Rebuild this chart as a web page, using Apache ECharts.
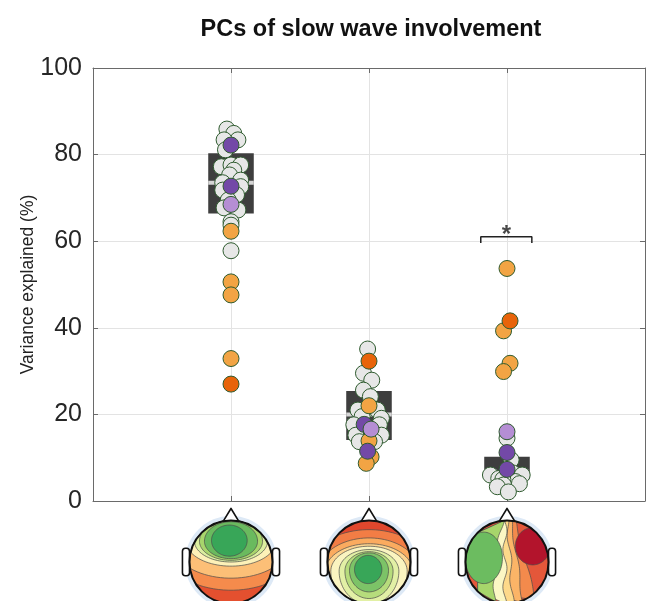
<!DOCTYPE html>
<html><head><meta charset="utf-8">
<script src="https://cdn.jsdelivr.net/npm/echarts@6/dist/echarts.min.js"></script>
<style>html,body{margin:0;padding:0;background:#fff}#c{width:649px;height:601px}</style>
</head><body><div id="c"></div>
<script>
// ---------- data ----------
const titleText = 'PCs of slow wave involvement';
const yName = 'Variance explained (%)';
const positions = [1, 2, 3];
const boxLow = [66.4, 14.1, 5.0];
const boxMedian = [73.5, 20.0, 6.3];
const boxHigh = [80.3, 25.4, 10.2];

const grayValues = [
  [85.9,84.9,83.4,83.4,81.1,77.2,77.6,77.6,76.4,75.3,74.1,73.5,71.8,72.6,70.7,69.5,67.7,67.2,64.5,63.7,57.8],
  [35.1,29.5,27.9,25.6,24.1,21.0,21.0,19.5,19.1,17.6,17.6,15.2,15.2,13.7,13.7],
  [14.5,9.5,6.5,6.0,5.2,6.0,4.5,5.0,4.0,3.7,3.3,2.1]
];
const grayJitter = [
  [-0.03,0.02,0.05,-0.05,-0.04,-0.07,0,0.07,0.02,-0.01,0.07,-0.06,-0.06,0.07,0.04,-0.02,-0.05,0.05,0,0,0],
  [-0.01,-0.04,0.02,-0.04,0.01,-0.08,0.06,-0.05,0.09,-0.11,0.075,-0.095,0.09,-0.07,0.04],
  [0,0.03,0.04,-0.12,-0.06,0.11,0.06,-0.03,0.09,-0.025,-0.07,0.01]
];
const orangeValues = [[62.3,50.6,47.6,32.9],[22.0,13.9,10.2,8.7],[53.7,39.3,31.8,29.9]];
const orangeJitter = [[0,0,0,0],[0,0,0.015,-0.02],[0,-0.025,0.022,-0.025]];
const darkOrangeValues = [[27.0],[32.3],[41.6]];
const darkOrangeJitter = [[0],[0],[0.022]];
const purpleValues = [[82.2,72.7],[17.7,11.5],[11.2,7.3]];
const purpleJitter = [[0,0],[-0.035,-0.01],[0,0]];
const lightPurpleValues = [[68.5],[16.6],[16.0]];
const lightPurpleJitter = [[0],[0.015],[0]];
const sigFrom = 2.81, sigTo = 3.18, sigLevel = 61.0, sigDrop = 59.6, sigText = '*';

// ---------- build ----------
function pts(vals, jit) {
  const out = [];
  vals.forEach((arr, i) => arr.forEach((v, j) => out.push([positions[i] + jit[i][j], v])));
  return out;
}
const FONT = "'Liberation Sans', Arial, Helvetica, sans-serif";
const axisColor = '#6a6a6a';
const gridColor = '#e3e3e3';
function dots(name, data, color) {
  return {
    type: 'scatter', name, data, symbol: 'circle', symbolSize: 16, z: 5,
    itemStyle: { color, borderColor: '#2f5b2f', borderWidth: 1, opacity: 1 },
    emphasis: { disabled: true }
  };
}
const frameAxis = { show: true, onZero: false, lineStyle: { color: axisColor, width: 1 } };
const frameTick = { show: true, inside: true, length: 5, lineStyle: { color: axisColor } };

const chart = echarts.init(document.getElementById('c'), null, { renderer: 'canvas' });
chart.setOption({
  animation: false,
  backgroundColor: '#fff',
  title: {
    text: titleText, left: 366, top: 13, textAlign: 'center',
    textStyle: { fontFamily: FONT, fontSize: 23.5, fontWeight: 'bold', color: '#111' }
  },
  grid: { left: 93, right: 4, top: 68, bottom: 100, containLabel: false },
  xAxis: [
    { type: 'value', min: 0, max: 4, interval: 1, position: 'bottom',
      axisLine: frameAxis, axisTick: frameTick, axisLabel: { show: false },
      splitLine: { show: true, lineStyle: { color: gridColor, width: 1 } } },
    { type: 'value', min: 0, max: 4, interval: 1, position: 'top',
      axisLine: frameAxis, axisTick: frameTick, axisLabel: { show: false }, splitLine: { show: false } }
  ],
  yAxis: [
    { type: 'value', min: 0, max: 100, interval: 20, position: 'left',
      name: yName, nameLocation: 'middle', nameGap: 56, nameRotate: 90, nameMoveOverlap: false,
      nameTextStyle: { fontFamily: FONT, fontSize: 17.5, color: '#222' },
      axisLine: frameAxis, axisTick: frameTick,
      axisLabel: { fontFamily: FONT, fontSize: 25, color: '#262626', margin: 11 },
      splitLine: { show: true, lineStyle: { color: gridColor, width: 1 } } },
    { type: 'value', min: 0, max: 100, interval: 20, position: 'right',
      axisLine: frameAxis, axisTick: frameTick, axisLabel: { show: false }, splitLine: { show: false } }
  ],
  series: [
    { type: 'custom', z: 2,
      data: positions.map((p, i) => [p, boxLow[i], boxMedian[i], boxHigh[i]]),
      encode: { x: 0, y: [1, 2, 3] },
      renderItem: (params, api) => {
        const x = api.value(0), lo = api.value(1), med = api.value(2), hi = api.value(3);
        const hw = 0.165;
        const a = api.coord([x - hw, hi]), b = api.coord([x + hw, lo]), m = api.coord([x, med]);
        return { type: 'group', children: [
          { type: 'rect', shape: { x: a[0], y: a[1], width: b[0] - a[0], height: b[1] - a[1] }, style: { fill: '#3e3e3e' } },
          { type: 'rect', shape: { x: a[0], y: m[1] - 2, width: b[0] - a[0], height: 4 }, style: { fill: '#d5d5d5' } }
        ] };
      } },
    dots('gray', pts(grayValues, grayJitter), '#e7e7e7'),
    dots('orange', pts(orangeValues, orangeJitter), '#f2a444'),
    dots('darkorange', pts(darkOrangeValues, darkOrangeJitter), '#e8640a'),
    dots('purple', pts(purpleValues, purpleJitter), '#7349a7'),
    dots('lightpurple', pts(lightPurpleValues, lightPurpleJitter), '#b58ed4'),
    { type: 'line', data: [[sigFrom, sigDrop], [sigFrom, sigLevel], [sigTo, sigLevel], [sigTo, sigDrop]],
      symbol: 'none', z: 6, lineStyle: { color: '#222', width: 1.5 }, emphasis: { disabled: true } },
    { type: 'scatter', data: [[(sigFrom + sigTo) / 2, sigLevel]], symbolSize: 0, z: 6,
      label: { show: true, formatter: sigText, position: 'top', distance: -11,
        fontFamily: FONT, fontSize: 24, fontWeight: 'bold', color: '#1a1a1a' } }
  ]
});

// ---------- scalp maps (decorative) ----------
function egg(x0, y0, rx, ryT, ryB, n) {
  const p = [];
  for (let i = 0; i < n; i++) {
    const t = i / n * Math.PI * 2;
    const s = Math.sin(t);
    p.push([x0 + rx * Math.cos(t), y0 + (s < 0 ? ryT : ryB) * s]);
  }
  return p;
}
function leftOf(t, s, amp, freq, ph) {
  const p = [];
  for (let i = 0; i <= 60; i++) {
    const y = -1.6 + 3.2 * i / 60;
    p.push([t + s * y + amp * Math.sin(freq * y + ph), y]);
  }
  p.push([-1.6, 1.6]); p.push([-1.6, -1.6]);
  return p;
}
const headSpecs = [
  { base: '#e4502f', regions: [
    { c: '#f58b4c', p: egg(0, -0.5, 1.75, 0.9, 1.18, 90) },
    { c: '#fcbf77', p: egg(0, -0.5, 1.45, 0.8, 0.89, 90) },
    { c: '#fdf1b8', p: egg(0, -0.5, 1.08, 0.7, 0.6, 90) },
    { c: '#dcee9f', p: egg(0, -0.5, 0.88, 0.6, 0.5, 90) },
    { c: '#a8d56c', p: egg(0, -0.5, 0.76, 0.52, 0.46, 90) },
    { c: '#6aba5e', p: egg(0, -0.5, 0.64, 0.47, 0.42, 90) },
    { c: '#38a658', p: egg(-0.04, -0.52, 0.43, 0.37, 0.38, 90) }
  ] },
  { base: '#e0472d', regions: [
    { c: '#f27d45', p: egg(0, 0.22, 1.5, 1.0, 1.4, 90) },
    { c: '#fbab5f', p: egg(0, 0.22, 1.2, 0.8, 1.2, 90) },
    { c: '#fdd590', p: egg(0, 0.22, 1.05, 0.66, 1.05, 90) },
    { c: '#faf4c0', p: egg(0, 0.22, 0.92, 0.6, 0.95, 90) },
    { c: '#e2f0a5', p: egg(0, 0.22, 0.72, 0.52, 0.8, 90) },
    { c: '#b6dc7c', p: egg(0, 0.22, 0.58, 0.47, 0.66, 90) },
    { c: '#7cc367', p: egg(0, 0.2, 0.47, 0.42, 0.52, 90) },
    { c: '#38a658', p: egg(-0.02, 0.18, 0.33, 0.34, 0.34, 90) }
  ] },
  { base: '#e4573a', regions: [
    { c: '#f38a4c', p: leftOf(0.45, 0.25, 0.03, 4, 0) },
    { c: '#fbb467', p: leftOf(0.25, 0.14, 0.03, 5, 1) },
    { c: '#fdd98a', p: leftOf(0.08, 0.06, 0.04, 6, 2) },
    { c: '#fbf7c4', p: leftOf(-0.05, 0.0, 0.05, 7, 0.5) },
    { c: '#a7d56b', p: leftOf(-0.22, -0.1, 0.06, 6, 1.5) },
    { c: '#6cbc60', p: egg(-0.56, -0.1, 0.45, 0.62, 0.62, 90) },
    { c: '#b3142c', p: egg(0.62, -0.38, 0.42, 0.45, 0.45, 90) }
  ] }
];
function drawHeads() {
  const els = [];
  const cy = 562, R = 41.5;
  headSpecs.forEach((spec, i) => {
    const cx = chart.convertToPixel({ xAxisIndex: 0 }, positions[i]);
    const toPix = pp => pp.map(([x, y]) => {
      let px = cx + x * R, py = cy + y * R;
      const dx = px - cx, dy = py - cy, d = Math.hypot(dx, dy);
      if (d > R) { px = cx + dx * R / d; py = cy + dy * R / d; }
      return [px, py];
    });
    els.push({ type: 'circle', shape: { cx, cy, r: R + 2.5 }, style: { fill: 'none', stroke: '#dde9f6', lineWidth: 4 } });
    [-1, 1].forEach(s => els.push({ type: 'rect',
      shape: { x: cx + s * R * 1.085 - R * 0.085, y: cy - R * 0.33, width: R * 0.17, height: R * 0.66, r: 3 },
      style: { fill: '#fff', stroke: '#111', lineWidth: 1.6 } }));
    els.push({ type: 'polygon', shape: { points: [[cx - R * 0.2, cy - R * 0.96], [cx, cy - R * 1.29], [cx + R * 0.2, cy - R * 0.96]] },
      style: { fill: '#fff', stroke: '#111', lineWidth: 1.6, lineJoin: 'round' } });
    els.push({ type: 'circle', shape: { cx, cy, r: R }, style: { fill: spec.base } });
    spec.regions.forEach(r => els.push({ type: 'polygon', shape: { points: toPix(r.p) },
      style: { fill: r.c, stroke: '#4a4a4a', lineWidth: 0.7 } }));
    els.push({ type: 'circle', shape: { cx, cy, r: R }, style: { fill: 'none', stroke: '#111', lineWidth: 2 } });
  });
  chart.setOption({ graphic: { elements: els } });
}
drawHeads();
</script>
</body></html>
